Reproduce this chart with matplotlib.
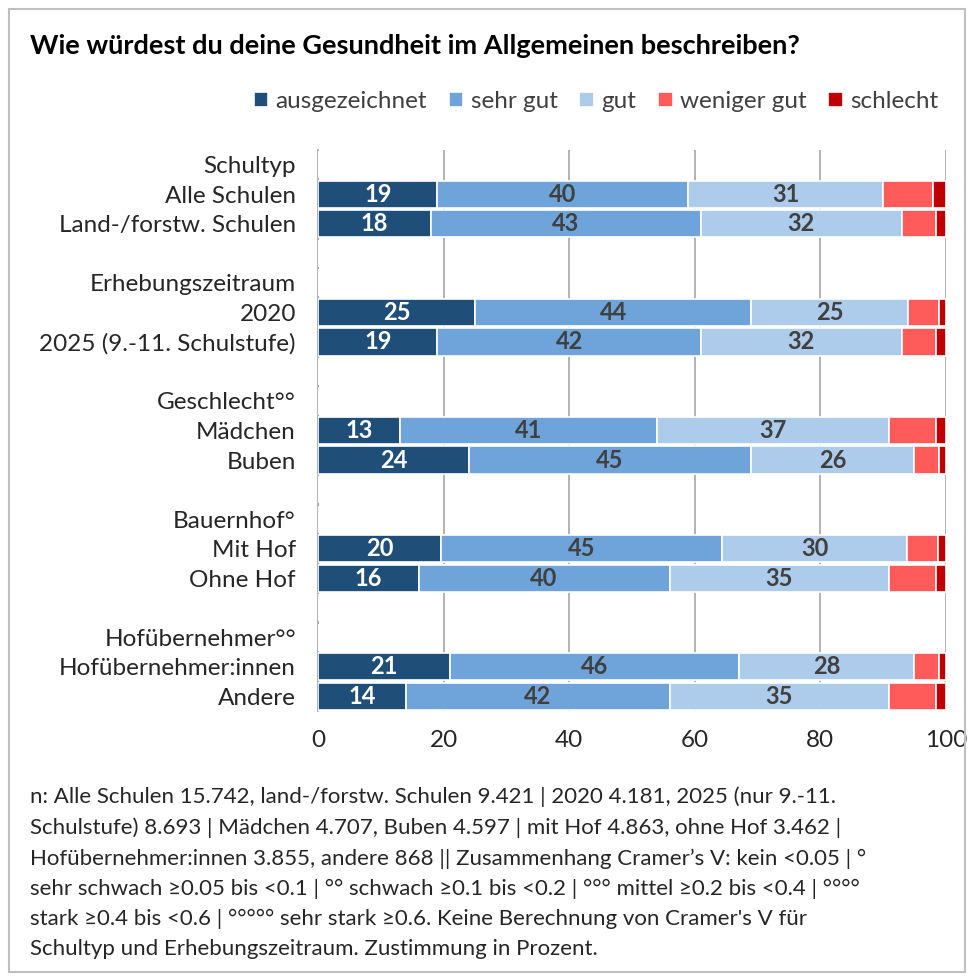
'''plot.py draws the stacked bar chart on self-rated health and saves it as out.png.
'''

import matplotlib.pyplot as plt
from matplotlib.patches import Rectangle

plt.rcParams['font.family'] = ['Lato', 'DejaVu Sans']

# data (percent); None rows are group headers / spacer rows
labels = ['Schultyp', 'Alle Schulen', 'Land-/forstw. Schulen', '',
          'Erhebungszeitraum', '2020', '2025 (9.-11. Schulstufe)', '',
          'Geschlecht°°', 'Mädchen', 'Buben', '',
          'Bauernhof°', 'Mit Hof', 'Ohne Hof', '',
          'Hofübernehmer°°', 'Hofübernehmer:innen', 'Andere']
series = ['ausgezeichnet', 'sehr gut', 'gut', 'weniger gut', 'schlecht']
ausgezeichnet = [None, 19, 18, None, None, 25, 19, None, None, 13, 24, None, None, 19.6, 16, None, None, 21, 14]
sehr_gut = [None, 40, 43, None, None, 44, 42, None, None, 41, 45, None, None, 44.7, 40, None, None, 46, 42]
gut = [None, 31, 32, None, None, 25, 32, None, None, 37, 26, None, None, 29.6, 35, None, None, 28, 35]
weniger_gut = [None, 8, 5.5, None, None, 5, 5.5, None, None, 7.5, 4, None, None, 4.8, 7.5, None, None, 4, 7.5]
schlecht = [None, 2, 1.5, None, None, 1, 1.5, None, None, 1.5, 1, None, None, 1.3, 1.5, None, None, 1, 1.5]

colors = ['#1F4E79', '#6FA4DA', '#ADCBEA', '#FF5B5B', '#C00000']
text_colors = ['white', '#404040', '#404040', None, None]
values = [ausgezeichnet, sehr_gut, gut, weniger_gut, schlecht]

fig = plt.figure(figsize=(9.70, 9.76), dpi=100)

# outer frame
fig.patches.append(Rectangle((0.009, 0.004), 0.986, 0.987, transform=fig.transFigure,
                             fill=False, edgecolor='#BFBFBF', linewidth=1.5))

fig.text(0.031, 0.953, 'Wie würdest du deine Gesundheit im Allgemeinen beschreiben?',
         fontsize=19.5, fontweight='bold', color='black', va='center')

ax = fig.add_axes([0.328, 0.2715, 0.647, 0.5748])
rows = list(range(len(labels)))
left = [0.0] * len(labels)
for s, vals, c, tc in zip(series, values, colors, text_colors):
    widths = [v if v is not None else 0 for v in vals]
    ax.barh(rows, widths, left=left, height=0.92, color=c,
            edgecolor='white', linewidth=1.2, label=s, zorder=3)
    if tc is not None:
        for i, v in enumerate(vals):
            if v is not None:
                ax.text(left[i] + v / 2, i, '%.0f' % v, ha='center', va='center',
                        color=tc, fontsize=17, fontweight='bold', zorder=4)
    left = [l + w for l, w in zip(left, widths)]

ax.set_ylim(len(labels) - 0.5, -0.5)
ax.set_xlim(0, 100)
ax.set_yticks(rows)
ax.set_yticklabels(labels, fontsize=17.5, color='#262626')
ax.set_xticks([0, 20, 40, 60, 80, 100])
ax.tick_params(axis='x', labelsize=17.5, colors='#262626', length=0, pad=14)
ax.tick_params(axis='y', length=0, pad=16)
ax.xaxis.grid(True, color='#A6A6A6', linewidth=1.2, zorder=0)
for sp in ['top', 'right', 'bottom']:
    ax.spines[sp].set_visible(False)
ax.spines['left'].set_color('#A6A6A6')
ax.spines['left'].set_linewidth(1.2)

fig.legend(loc='center right', bbox_to_anchor=(0.99, 0.896), ncol=5, frameon=False,
           fontsize=17.5, handlelength=0.6, handleheight=0.6, handletextpad=0.3,
           columnspacing=0.9, labelcolor='#404040')

note = ("n: Alle Schulen 15.742, land-/forstw. Schulen 9.421 | 2020 4.181, 2025 (nur 9.-11.\n"
        "Schulstufe) 8.693 | Mädchen 4.707, Buben 4.597 | mit Hof 4.863, ohne Hof 3.462 |\n"
        "Hofübernehmer:innen 3.855, andere 868 || Zusammenhang Cramer’s V: kein <0.05 | °\n"
        "sehr schwach ≥0.05 bis <0.1 | °° schwach ≥0.1 bis <0.2 | °°° mittel ≥0.2 bis <0.4 | °°°°\n"
        "stark ≥0.4 bis <0.6 | °°°°° sehr stark ≥0.6. Keine Berechnung von Cramer's V für\n"
        "Schultyp und Erhebungszeitraum. Zustimmung in Prozent.")
fig.text(0.031, 0.194, note, fontsize=16, color='#262626', va='top', linespacing=1.62)

plt.savefig('out.png', dpi=100)
